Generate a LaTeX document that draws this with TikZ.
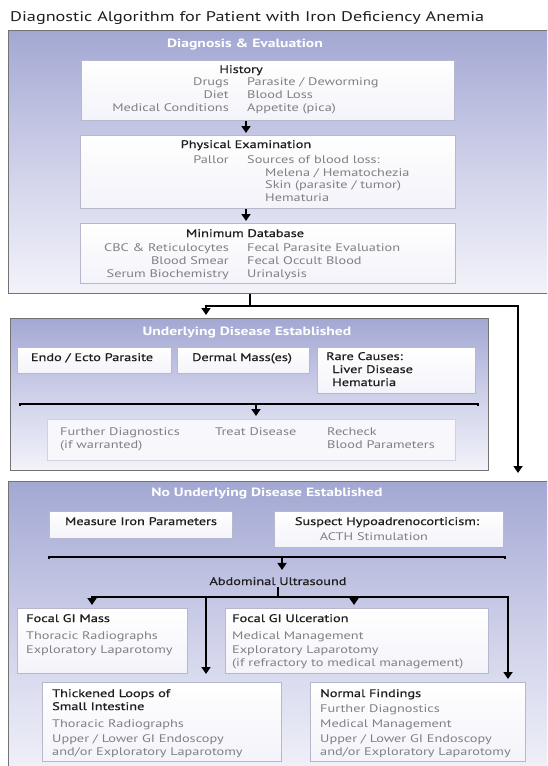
\documentclass[tikz,border=0pt]{standalone}
\usepackage{fontspec}
\setmainfont{PT Sans}[FakeStretch=1.3]
\newfontfamily\headfam{PT Sans}[FakeStretch=1.3, FakeBold=0.6]
\usetikzlibrary{arrows.meta,calc}
\definecolor{lavA}{RGB}{163,168,211}
\definecolor{lavB}{RGB}{206,208,233}
\definecolor{lavC}{RGB}{243,243,250}
\definecolor{boxline}{RGB}{182,184,206}
\definecolor{resline}{RGB}{210,210,222}
\definecolor{bodygray}{RGB}{128,128,132}
\definecolor{panelline}{RGB}{115,115,115}
\definecolor{headdark}{RGB}{30,30,30}
\tikzset{
  panel/.style={draw=panelline, line width=1.2pt, top color=lavA, bottom color=lavC, middle color=lavB, anchor=north west, inner sep=0pt},
  wbox/.style={draw=boxline, line width=0.8pt, top color=white, bottom color=lavC, anchor=north west, inner sep=0pt},
  resbox/.style={draw=resline, line width=0.8pt, fill=lavC!60!white, anchor=north west, inner sep=0pt},
  ptitle/.style={text=white, font=\bfseries\fontsize{12}{14}\selectfont, anchor=base, inner sep=0pt},
  head/.style={text=headdark, font=\headfam\fontsize{11}{13}\selectfont, inner sep=0pt},
  body/.style={text=bodygray, font=\fontsize{11}{13}\selectfont, inner sep=0pt},
  conn/.style={line width=2.5pt, black},
  arr/.style={conn, -{Triangle[width=9pt,length=7pt]}}
}
\begin{document}
\begin{tikzpicture}[x=1pt,y=-1pt]
\useasboundingbox (0,0) rectangle (547,766);
\clip (0,0) rectangle (547,766);
\fill[white] (0,0) rectangle (547,766);
% title
\node[anchor=base west, inner sep=0pt, text=headdark, font=\fontsize{14}{17}\selectfont] (title) at (10,21) {Diagnostic Algorithm for Patient with Iron Deficiency Anemia};
% ---------- panel 1
\node[panel, minimum width=560pt, minimum height=263pt] (p1) at (8,30) {};
\node[ptitle] (p1t) at (245,47) {Diagnosis \& Evaluation};
\node[wbox, minimum width=373pt, minimum height=60pt] (hist) at (81,60) {};
\node[head, anchor=base] (histt) at (241,73) {History};
\node[body, anchor=base east] (h1l) at (229,85) {Drugs};
\node[body, anchor=base west] (h1r) at (247,85) {Parasite / Deworming};
\node[body, anchor=base east] (h2l) at (229,98) {Diet};
\node[body, anchor=base west] (h2r) at (247,98) {Blood Loss};
\node[body, anchor=base east] (h3l) at (229,111) {Medical Conditions};
\node[body, anchor=base west] (h3r) at (247,111) {Appetite (pica)};
\node[wbox, minimum width=375pt, minimum height=73pt] (pe) at (80,135) {};
\node[head, anchor=base] (pet) at (246,148) {Physical Examination};
\node[body, anchor=base east] (pe1l) at (229,163) {Pallor};
\node[body, anchor=base west] (pe1r) at (247,163) {Sources of blood loss:};
\node[body, anchor=base west] (pe2) at (265,176) {Melena / Hematochezia};
\node[body, anchor=base west] (pe3) at (265,188) {Skin (parasite / tumor)};
\node[body, anchor=base west] (pe4) at (265,201) {Hematuria};
\node[wbox, minimum width=375pt, minimum height=60pt] (md) at (80,223) {};
\node[head, anchor=base] (mdt) at (245,237) {Minimum Database};
\node[body, anchor=base east] (md1l) at (229,251) {CBC \& Reticulocytes};
\node[body, anchor=base west] (md1r) at (247,251) {Fecal Parasite Evaluation};
\node[body, anchor=base east] (md2l) at (229,264) {Blood Smear};
\node[body, anchor=base west] (md2r) at (247,264) {Fecal Occult Blood};
\node[body, anchor=base east] (md3l) at (229,277) {Serum Biochemistry};
\node[body, anchor=base west] (md3r) at (247,277) {Urinalysis};
\coordinate (cx1) at (246,0);
\draw[arr, shorten >=2pt] (hist.south -| cx1) -- (pe.north -| cx1);
\draw[arr, shorten >=2pt] (pe.south -| cx1) -- (md.north -| cx1);
% ---------- panel 2
\node[panel, minimum width=478pt, minimum height=152pt] (p2) at (10,318) {};
\node[ptitle] (p2t) at (247,335) {Underlying Disease Established};
\node[wbox, minimum width=154pt, minimum height=26pt] (endo) at (17,347) {};
\node[head, anchor=base] (endot) at (92,361) {Endo / Ecto Parasite};
\node[wbox, minimum width=132pt, minimum height=26pt] (derm) at (177,347) {};
\node[head, anchor=base] (dermt) at (242,361) {Dermal Mass(es)};
\node[wbox, minimum width=158pt, minimum height=46pt] (rare) at (317,347) {};
\node[head, anchor=base west] (rare1) at (326,360) {Rare Causes:};
\node[head, anchor=base west] (rare2) at (332,373) {Liver Disease};
\node[head, anchor=base west] (rare3) at (332,386) {Hematuria};
\node[resbox, minimum width=408pt, minimum height=41pt] (res) at (47,419) {};
\node[body, anchor=base west] (res1) at (60,435) {Further Diagnostics};
\node[body, anchor=base west] (res1b) at (60,448) {(if warranted)};
\node[body, anchor=base west] (res2) at (215,435) {Treat Disease};
\node[body, anchor=base west] (res3) at (327,435) {Recheck};
\node[body, anchor=base west] (res3b) at (327,448) {Blood Parameters};
\coordinate (b2l) at (20,404);
\coordinate (b2r) at (478,404);
\coordinate (b2m) at (256,404);
\draw[conn] ($(b2l)+(0,2)$) -- (b2l) -- (b2r) -- ++(0,2);
\draw[arr, shorten >=3pt] (b2m) -- (res.north -| b2m);
% ---------- panel 3
\node[panel, minimum width=560pt, minimum height=300pt] (p3) at (8,481) {};
\node[ptitle] (p3t) at (267,496) {No Underlying Disease Established};
\node[wbox, minimum width=183pt, minimum height=27pt] (iron) at (49,511) {};
\node[head, anchor=base] (iront) at (141,525) {Measure Iron Parameters};
\node[wbox, minimum width=229pt, minimum height=36pt] (hypo) at (274,511) {};
\node[head, anchor=base] (hypot) at (387,525) {Suspect Hypoadrenocorticism:};
\node[body, anchor=base] (hypob) at (374,540) {ACTH Stimulation};
\coordinate (b3l) at (49,557);
\coordinate (b3r) at (505,557);
\coordinate (b3m) at (282,557);
\draw[conn] ($(b3l)+(0,2)$) -- (b3l) -- (b3r) -- ++(0,2);
\node[head, anchor=base, inner sep=2pt] (abd) at (278,585) {Abdominal Ultrasound};
\draw[arr, shorten >=5pt] (b3m) -- (abd.north -| b3m);
\coordinate (s0) at (278,597);
\coordinate (sl) at (92,597);
\coordinate (sa) at (206,597);
\coordinate (sb) at (354,597);
\coordinate (sr) at (508,597);
\draw[conn] (abd.south) -- (s0);
\node[wbox, minimum width=170pt, minimum height=65pt] (gim) at (17,608) {};
\node[head, anchor=base west] (gim1) at (26,622) {Focal GI Mass};
\node[body, anchor=base west] (gim2) at (26,639) {Thoracic Radiographs};
\node[body, anchor=base west] (gim3) at (26,653) {Exploratory Laparotomy};
\node[wbox, minimum width=263pt, minimum height=65pt] (ulc) at (225,608) {};
\node[head, anchor=base west] (ulc1) at (232,622) {Focal GI Ulceration};
\node[body, anchor=base west] (ulc2) at (232,639) {Medical Management};
\node[body, anchor=base west] (ulc3) at (232,653) {Exploratory Laparotomy};
\node[body, anchor=base west] (ulc4) at (232,666) {(if refractory to medical management)};
\node[wbox, minimum width=239pt, minimum height=79pt] (thk) at (42,682) {};
\node[head, anchor=base west] (thk1) at (52,697) {Thickened Loops of};
\node[head, anchor=base west] (thk2) at (52,710) {Small Intestine};
\node[body, anchor=base west] (thk3) at (52,727) {Thoracic Radiographs};
\node[body, anchor=base west] (thk4) at (52,742) {Upper / Lower GI Endoscopy};
\node[body, anchor=base west] (thk5) at (52,755) {and/or Exploratory Laparotomy};
\node[wbox, minimum width=215pt, minimum height=79pt] (nrm) at (310,682) {};
\node[head, anchor=base west] (nrm1) at (320,697) {Normal Findings};
\node[body, anchor=base west] (nrm2) at (320,712) {Further Diagnostics};
\node[body, anchor=base west] (nrm3) at (320,727) {Medical Management};
\node[body, anchor=base west] (nrm4) at (320,742) {Upper / Lower GI Endoscopy};
\node[body, anchor=base west] (nrm5) at (320,755) {and/or Exploratory Laparotomy};
\draw[arr, shorten >=3pt] (s0) -- (sl) -- (gim.north -| sl);
\draw[arr, shorten >=3pt] (s0) -- (sr) -- (nrm.north -| sr);
\draw[arr, shorten >=8pt] (sa) -- (thk.north -| sa);
\draw[arr, shorten >=3pt] (sb) -- (ulc.north -| sb);
% ---------- connectors between panels
\coordinate (j1) at (250,306);
\coordinate (jl) at (206,306);
\coordinate (jr) at (518,306);
\draw[conn] (p1.south -| j1) -- (j1);
\draw[arr, shorten >=3pt] (jr) -- (jl) -- (p2.north -| jl);
\draw[arr, shorten >=8pt] (jl) -- (jr) -- (p3.north -| jr);
\end{tikzpicture}
\end{document}
